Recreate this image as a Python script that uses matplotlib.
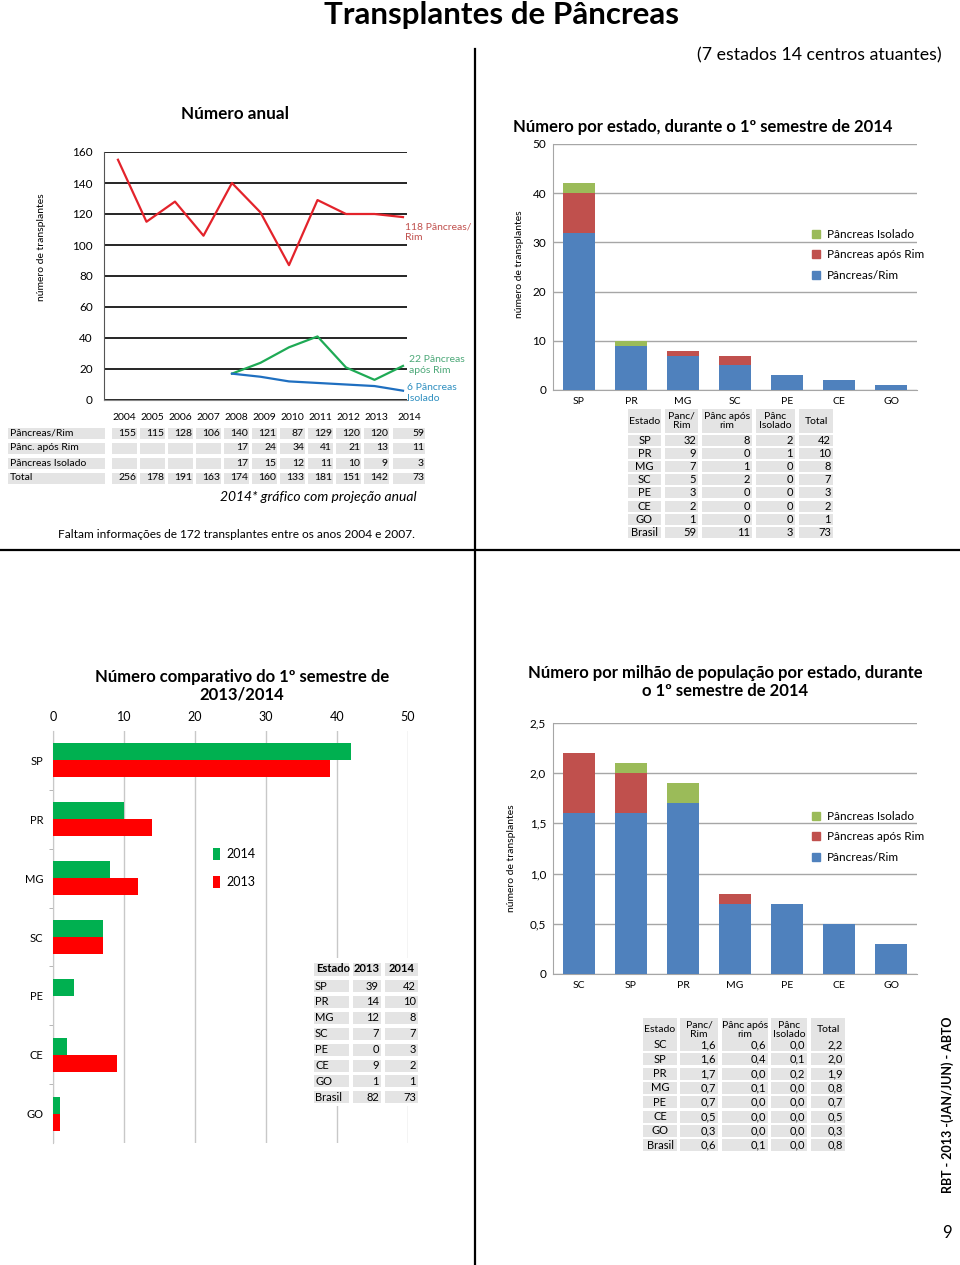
import matplotlib
matplotlib.use("Agg")
import matplotlib.pyplot as plt
from matplotlib.patches import Rectangle, Patch

plt.rcParams['font.family'] = ['Lato', 'DejaVu Sans']

# --- data: número anual -------------------------------------------------
years = ['2004', '2005', '2006', '2007', '2008', '2009', '2010', '2011', '2012', '2013', '2014']
line_pr_rim = [155, 115, 128, 106, 140, 121, 87, 129, 120, 120, 118]   # 2014 projetado
line_apos_rim = [17, 24, 34, 41, 21, 13, 22]                            # 2008-2014
line_isolado = [17, 15, 12, 11, 10, 9, 6]                               # 2008-2014
tab_rows = ['Pâncreas/Rim', 'Pânc. após Rim', 'Pâncreas Isolado', 'Total']
tab_pr_rim = [155, 115, 128, 106, 140, 121, 87, 129, 120, 120, 59]
tab_apos_rim = [None, None, None, None, 17, 24, 34, 41, 21, 13, 11]
tab_isolado = [None, None, None, None, 17, 15, 12, 11, 10, 9, 3]
tab_total = [256, 178, 191, 163, 174, 160, 133, 181, 151, 142, 73]

# --- data: por estado, 1º semestre 2014 ---------------------------------
states = ['SP', 'PR', 'MG', 'SC', 'PE', 'CE', 'GO']
st_pr_rim = [32, 9, 7, 5, 3, 2, 1]
st_apos_rim = [8, 0, 1, 2, 0, 0, 0]
st_isolado = [2, 1, 0, 0, 0, 0, 0]
st_total = [42, 10, 8, 7, 3, 2, 1]
br_row = [59, 11, 3, 73]

# --- data: comparativo 2013/2014 ----------------------------------------
cmp_2013 = [39, 14, 12, 7, 0, 9, 1]
cmp_2014 = [42, 10, 8, 7, 3, 2, 1]
cmp_br = [82, 73]

# --- data: por milhão de população --------------------------------------
pmp_states = ['SC', 'SP', 'PR', 'MG', 'PE', 'CE', 'GO']
pmp_pr_rim = [1.6, 1.6, 1.7, 0.7, 0.7, 0.5, 0.3]
pmp_apos_rim = [0.6, 0.4, 0.0, 0.1, 0.0, 0.0, 0.0]
pmp_isolado = [0.0, 0.1, 0.2, 0.0, 0.0, 0.0, 0.0]
pmp_total = [2.2, 2.0, 1.9, 0.8, 0.7, 0.5, 0.3]
pmp_br = [0.6, 0.1, 0.0, 0.8]
pmp_yticks = [0, 0.5, 1.0, 1.5, 2.0, 2.5]
pmp_yticklabels = ['0', '0,5', '1,0', '1,5', '2,0', '2,5']

BLUE, RED, GREEN = '#4f81bd', '#c0504d', '#9bbb59'
CELL = '#e4e4e4'
W, H = 960, 1265
TFS = 8  # table font size

fig = plt.figure(figsize=(W / 100, H / 100), dpi=100)


def axes_px(l, t, r, b):
    return fig.add_axes([l / W, 1 - b / H, (r - l) / W, (b - t) / H])


# overlay for page texts, lines and tables (pixel coords, origin top-left)
ov = fig.add_axes([0, 0, 1, 1], zorder=10)
ov.set_xlim(0, W)
ov.set_ylim(H, 0)
ov.axis('off')
ov.patch.set_alpha(0)


def cell(x0, x1, yc, h=11, color=CELL):
    ov.add_patch(Rectangle((x0, yc - h / 2), x1 - x0, h, facecolor=color, edgecolor='none'))


def fmt(v):
    return f'{v:.1f}'.replace('.', ',')


# page frame
ov.plot([475, 475], [49, 1265], color='black', lw=1.6)
ov.plot([0, 960], [550, 550], color='black', lw=1.6)
ov.text(502, 15, 'Transplantes de Pâncreas', ha='center', va='center', fontsize=22.6, fontweight='bold')
ov.text(942, 55, '(7 estados 14 centros atuantes)', ha='right', va='center', fontsize=12.8)
ov.text(948, 1105, 'RBT - 2013 -(JAN/JUN) - ABTO', rotation=90, ha='center', va='center',
        fontsize=9, fontweight='bold')
ov.text(947, 1233, '9', ha='center', va='center', fontsize=12)

# ---------------- Número anual ------------------------------------------
ax1 = axes_px(104, 152, 407, 400)
x_all = list(range(len(years)))
ax1.plot(x_all, line_pr_rim, color='#e3232b', lw=1.6)
ax1.plot(x_all[4:], line_apos_rim, color='#1faa55', lw=1.6)
ax1.plot(x_all[4:], line_isolado, color='#1f6fc0', lw=1.6)
ax1.set_xlim(-0.49, 10.14)
ax1.set_ylim(0, 160)
ax1.set_yticks(range(0, 161, 20))
ax1.set_xticks([])
ax1.yaxis.grid(True, color='black', lw=1.2)
ax1.tick_params(axis='y', length=0, labelsize=8.5, pad=8)
for s in ['top', 'right']:
    ax1.spines[s].set_visible(False)
ax1.spines['left'].set_color('#555555')
ax1.spines['bottom'].set_color('#888888')
ov.text(235, 114, 'Número anual', ha='center', va='center', fontsize=12.3, fontweight='bold')
ov.text(42, 247, 'número de transplantes', rotation=90, ha='center', va='center', fontsize=7.5)
ov.text(405, 222, '118 Pâncreas/\nRim', ha='left', va='top', fontsize=7.5, color='#c0504d', linespacing=1.25)
ov.text(409, 355, '22 Pâncreas\napós Rim', ha='left', va='top', fontsize=7.5, color='#4ca878', linespacing=1.25)
ov.text(407, 383, '6 Pâncreas\nIsolado', ha='left', va='top', fontsize=7.5, color='#2f8fc0', linespacing=1.25)

# table under the line chart
for i, yr in enumerate(years):
    x0, x1 = (112 + 28 * i, 137 + 28 * i) if i < 10 else (393, 425)
    ov.text((x0 + x1) / 2, 418, yr, ha='center', va='center', fontsize=7.5)
row_vals = [tab_pr_rim, tab_apos_rim, tab_isolado, tab_total]
for r, (name, vals) in enumerate(zip(tab_rows, row_vals)):
    yc = 433 + 15 * r
    cell(8, 105, yc)
    ov.text(10, yc, name, ha='left', va='center', fontsize=7.5)
    for i, v in enumerate(vals):
        x0, x1 = (112 + 28 * i, 137 + 28 * i) if i < 10 else (393, 425)
        cell(x0, x1, yc)
        if v is not None:
            ov.text(x1 - 1, yc, str(v), ha='right', va='center', fontsize=7.5)
ov.text(318, 497, '2014* gráfico com projeção anual', ha='center', va='center', fontsize=10, style='italic')
ov.text(236, 534, 'Faltam informações de 172 transplantes entre os anos 2004 e 2007.',
        ha='center', va='center', fontsize=8.6)


# ---------------- stacked bar helper -------------------------------------
def stacked(ax, cats, base, mid, top):
    x = range(len(cats))
    ax.bar(x, base, width=0.63, color=BLUE, label='Pâncreas/Rim', zorder=3)
    ax.bar(x, mid, width=0.63, bottom=base, color=RED, label='Pâncreas após Rim', zorder=3)
    ax.bar(x, top, width=0.63, bottom=[a + b for a, b in zip(base, mid)], color=GREEN,
           label='Pâncreas Isolado', zorder=3)
    ax.set_xlim(-0.5, len(cats) - 0.5)
    ax.set_xticks(list(x))
    ax.set_xticklabels(cats)
    ax.yaxis.grid(True, color='#a6a6a6', lw=1)
    ax.set_axisbelow(True)
    ax.tick_params(length=0, labelsize=7.5, pad=5)
    ax.tick_params(axis='y', labelsize=8.5)
    for s in ['top', 'right']:
        ax.spines[s].set_visible(False)
    ax.spines['left'].set_color('#a6a6a6')
    ax.spines['bottom'].set_color('#a6a6a6')


def stack_legend(ax, left, top):
    handles = [Patch(color=GREEN), Patch(color=RED), Patch(color=BLUE)]
    labels = ['Pâncreas Isolado', 'Pâncreas após Rim', 'Pâncreas/Rim']
    ax.legend(handles, labels, loc='upper left', bbox_to_anchor=(left / W, 1 - top / H),
              bbox_transform=fig.transFigure, frameon=False, fontsize=8.5, handlelength=0.7,
              handleheight=0.7, handletextpad=0.6, labelspacing=0.8, borderpad=0, borderaxespad=0)


# ---------------- Número por estado --------------------------------------
ax2 = axes_px(553, 144, 917, 390)
stacked(ax2, states, st_pr_rim, st_apos_rim, st_isolado)
ax2.set_ylim(0, 50)
ax2.set_yticks(range(0, 51, 10))
stack_legend(ax2, 812, 229)
ov.text(513, 127, 'Número por estado, durante o 1º semestre de 2014', ha='left', va='center',
        fontsize=12, fontweight='bold')
ov.text(519, 264, 'número de transplantes', rotation=90, ha='center', va='center', fontsize=7.5)

cols2 = [(628, 661), (665, 698), (702, 752), (756, 795), (799, 833)]
heads2 = ['Estado', 'Panc/\nRim', 'Pânc após\nrim', 'Pânc\nIsolado', 'Total']
for (x0, x1), hd in zip(cols2, heads2):
    cell(x0, x1, 421, h=24)
    ov.text((x0 + x1) / 2, 421, hd, ha='center', va='center', fontsize=7.5, linespacing=1.05)
rows2 = [(s, [a, b, c, t]) for s, a, b, c, t in zip(states, st_pr_rim, st_apos_rim, st_isolado, st_total)]
rows2.append(('Brasil', br_row))
for r, (name, vals) in enumerate(rows2):
    yc = 440 + 13.2 * r
    cell(*cols2[0], yc)
    ov.text((cols2[0][0] + cols2[0][1]) / 2, yc, name, ha='center', va='center', fontsize=TFS)
    for (x0, x1), v in zip(cols2[1:], vals):
        cell(x0, x1, yc)
        ov.text(x1 - 2, yc, str(v), ha='right', va='center', fontsize=TFS)

# ---------------- comparativo 2013/2014 ----------------------------------
ax3 = axes_px(53, 731, 408, 1143)
yy = range(len(states))
hb = 0.29
ax3.barh([y - hb / 2 for y in yy], cmp_2014, height=hb, color='#00b050', label='2014', zorder=3)
ax3.barh([y + hb / 2 for y in yy], cmp_2013, height=hb, color='#ff0000', label='2013', zorder=3)
ax3.set_ylim(len(states) - 0.5, -0.5)
ax3.set_xlim(0, 50)
ax3.set_yticks(list(yy))
ax3.set_yticklabels(states)
ax3.set_yticks([y + 0.5 for y in yy[:-1]], minor=True)
ax3.xaxis.tick_top()
ax3.set_xticks(range(0, 51, 10))
ax3.xaxis.grid(True, color='#c8c8c8', lw=1)
ax3.set_axisbelow(True)
ax3.tick_params(axis='x', length=0, labelsize=9, pad=6)
ax3.tick_params(axis='y', which='major', length=0, labelsize=8, pad=7)
ax3.tick_params(axis='y', which='minor', length=3, color='#aaaaaa')
for s in ['top', 'right', 'bottom']:
    ax3.spines[s].set_visible(False)
ax3.spines['left'].set_color('#c8c8c8')
ax3.legend(loc='upper left', bbox_to_anchor=(213 / W, 1 - 848 / H), bbox_transform=fig.transFigure,
           frameon=False, fontsize=9, handlelength=0.55, handleheight=1.1, handletextpad=0.5,
           labelspacing=1.25, borderpad=0, borderaxespad=0)
ov.text(242, 686, 'Número comparativo do 1º semestre de\n2013/2014', ha='center', va='center',
        fontsize=12, fontweight='bold', linespacing=1.1)

ov.add_patch(Rectangle((310, 958), 112, 148, facecolor='white', edgecolor='none'))
cols3 = [(314, 349), (353, 381), (385, 418)]
heads3 = ['Estado', '2013', '2014']
for j, ((x0, x1), hd) in enumerate(zip(cols3, heads3)):
    cell(x0, x1, 969, h=13)
    ov.text(x0 + 2 if j == 0 else (x0 + x1) / 2, 969, hd, ha='left' if j == 0 else 'center',
            va='center', fontsize=TFS, fontweight='bold')
rows3 = [(s, [a, b]) for s, a, b in zip(states, cmp_2013, cmp_2014)] + [('Brasil', cmp_br)]
for r, (name, vals) in enumerate(rows3):
    yc = 986 + 15.9 * r
    cell(*cols3[0], yc, h=12)
    ov.text(cols3[0][0] + 1, yc, name, ha='left', va='center', fontsize=TFS)
    for (x0, x1), v in zip(cols3[1:], vals):
        cell(x0, x1, yc, h=12)
        ov.text(x1 - 2, yc, str(v), ha='right', va='center', fontsize=TFS)

# ---------------- por milhão de população --------------------------------
ax4 = axes_px(553, 723, 917, 974)
stacked(ax4, pmp_states, pmp_pr_rim, pmp_apos_rim, pmp_isolado)
ax4.set_ylim(0, 2.5)
ax4.set_yticks(pmp_yticks)
ax4.set_yticklabels(pmp_yticklabels)
stack_legend(ax4, 812, 811)
ov.text(725, 682, 'Número por milhão de população por estado, durante\no 1º semestre de 2014',
        ha='center', va='center', fontsize=12, fontweight='bold', linespacing=1.1)
ov.text(511, 858, 'número de transplantes', rotation=90, ha='center', va='center', fontsize=7.5)

cols4 = [(643, 677), (680, 718), (722, 768), (771, 807), (811, 845)]
for (x0, x1), hd in zip(cols4, heads2):
    cell(x0, x1, 1030, h=24)
    ov.text((x0 + x1) / 2, 1030, hd, ha='center', va='center', fontsize=7.5, linespacing=1.05)
rows4 = [(s, [a, b, c, t]) for s, a, b, c, t in zip(pmp_states, pmp_pr_rim, pmp_apos_rim, pmp_isolado, pmp_total)]
rows4.append(('Brasil', pmp_br))
for r, (name, vals) in enumerate(rows4):
    yc = 1045 + 14.3 * r
    cell(*cols4[0], yc, h=12)
    ov.text((cols4[0][0] + cols4[0][1]) / 2, yc, name, ha='center', va='center', fontsize=TFS)
    for (x0, x1), v in zip(cols4[1:], vals):
        cell(x0, x1, yc, h=12)
        ov.text(x1 - 2, yc, fmt(v), ha='right', va='center', fontsize=TFS)

fig.savefig('out.png', dpi=100)
